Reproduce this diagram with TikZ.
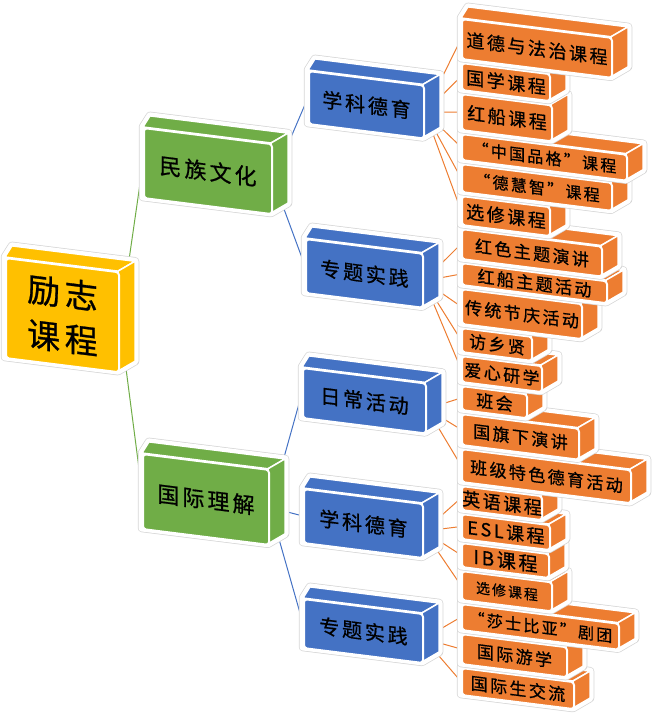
\documentclass[tikz,border=0pt]{standalone}
\usepackage{fontspec}
\newfontfamily\cjk[LetterSpace=14, FakeBold=0.8]{Noto Sans CJK SC}
\pgfdeclarelayer{bg}
\pgfsetlayers{bg,main}
\definecolor{cOr}{HTML}{ED7D31}
\definecolor{cBl}{HTML}{4472C4}
\definecolor{cGr}{HTML}{70AD47}
\definecolor{cYe}{HTML}{FFC000}
\newcommand{\fsz}[1]{\fontsize{#1}{#1}\selectfont}
\tikzset{
  halo/.style={draw=black!16, line width=8.5pt, line join=round},
  wbord/.style={draw=white, line width=7pt, line join=round, fill=white},
  face/.style={fill=#1, draw=white, line width=1.5pt, line join=round},
  front/.style={rectangle, rounded corners=3pt, draw=white, line width=2pt,
    inner sep=0pt, anchor=north west, transform shape, align=center},
  lk/.style={draw=#1, line width=1pt},
}
\newcommand{\cube}[8]{%
  \begin{scope}[shift={(#2,#3)}, yslant=-0.125]
    \path[halo] (0,#5) -- (0,0) -- (7,-12) -- (#4+17,-12) -- (#4+17,#5-12) -- (#4,#5) -- cycle;
    \path[wbord] (0,#5) -- (0,0) -- (7,-12) -- (#4+17,-12) -- (#4+17,#5-12) -- (#4,#5) -- cycle;
    \path[face=#6] (0,0) -- (7,-12) -- (#4+17,-12) -- (#4,0) -- cycle;
    \path[face=#6] (#4,0) -- (#4+17,-12) -- (#4+17,#5-12) -- (#4,#5) -- cycle;
    \node[front, fill=#6, minimum width=#4pt, minimum height=#5pt, font={\cjk #7}] (#1) at (0,0) {#8};
  \end{scope}}
\begin{document}
\begin{tikzpicture}[x=1pt, y=-1pt]
\useasboundingbox (0,0) rectangle (654,713);
% main boxes
\cube{lizhi}{5}{257}{113}{100}{cYe}{\fontsize{33}{45}\selectfont}{励志\\课程}
\cube{minzu}{143}{127}{128}{70}{cGr}{\fsz{22}}{民族文化}
\cube{guoji}{142}{453}{126}{75}{cGr}{\fsz{22}}{国际理解}
\cube{xka}{308}{70}{115}{53}{cBl}{\fsz{20}}{学科德育}
\cube{zta}{305}{238}{117}{54}{cBl}{\fsz{20}}{专题实践}
\cube{rc}{302}{367}{123}{50}{cBl}{\fsz{20}}{日常活动}
\cube{xkb}{303}{488}{119}{54}{cBl}{\fsz{20}}{学科德育}
\cube{ztb}{303}{598}{119}{49}{cBl}{\fsz{20}}{专题实践}
% orange stack, bottom first
\cube{o21}{461}{667}{112}{27}{cOr}{\fsz{17}}{国际生交流}
\cube{o20}{461}{633}{105}{30}{cOr}{\fsz{17}}{国际游学}
\cube{o19}{461}{603}{157}{26}{cOr}{\fsz{16}}{“莎士比亚”剧团}
\cube{o18}{461}{570}{90}{29}{cOr}{\fsz{14}}{选修课程}
\cube{o17}{461}{542}{87}{24}{cOr}{\fsz{19}}{IB课程}
\cube{o16}{461}{513}{88}{25}{cOr}{\fsz{18}}{ESL课程}
\cube{o15}{461}{485}{80}{24}{cOr}{\fsz{18}}{英语课程}
\cube{o14}{461}{448}{169}{33}{cOr}{\fsz{17}}{班级特色德育活动}
\cube{o13}{461}{413}{117}{31}{cOr}{\fsz{17}}{国旗下演讲}
\cube{o12}{461}{385}{65}{24}{cOr}{\fsz{17}}{班会}
\cube{o11}{461}{355}{80}{26}{cOr}{\fsz{17}}{爱心研学}
\cube{o10}{461}{327}{70}{24}{cOr}{\fsz{17}}{访乡贤}
\cube{o9}{461}{288}{120}{35}{cOr}{\fsz{17}}{传统节庆活动}
\cube{o8}{461}{262}{145}{22}{cOr}{\fsz{17}}{红船主题活动}
\cube{o7}{461}{228}{140}{30}{cOr}{\fsz{17}}{红色主题演讲}
\cube{o6}{461}{195}{88}{29}{cOr}{\fsz{18}}{选修课程}
\cube{o5}{461}{163}{150}{28}{cOr}{\fsz{16}}{“德慧智”课程}
\cube{o4}{461}{133}{165}{26}{cOr}{\fsz{16}}{“中国品格”课程}
\cube{o3}{461}{93}{90}{36}{cOr}{\fsz{18}}{红船课程}
\cube{o2}{461}{62}{88}{27}{cOr}{\fsz{18}}{国学课程}
\cube{o1}{461}{18}{150}{40}{cOr}{\fsz{18}}{道德与法治课程}
% connectors
\begin{pgfonlayer}{bg}
\draw[lk=cGr] (lizhi.east) -- (minzu.west);
\draw[lk=cGr] (lizhi.east) -- (guoji.west);
\draw[lk=cBl] (minzu.east) -- (xka.west);
\draw[lk=cBl] (minzu.east) -- (zta.west);
\draw[lk=cBl] (guoji.east) -- (rc.west);
\draw[lk=cBl] (guoji.east) -- (xkb.west);
\draw[lk=cBl] (guoji.east) -- (ztb.west);
\foreach \c in {o1,o2,o3,o4,o5,o6} \draw[lk=cOr] (xka.east) -- (\c.west);
\foreach \c in {o7,o8,o9,o10,o11} \draw[lk=cOr] (zta.east) -- (\c.west);
\foreach \c in {o12,o13,o14} \draw[lk=cOr] (rc.east) -- (\c.west);
\foreach \c in {o15,o16,o17,o18} \draw[lk=cOr] (xkb.east) -- (\c.west);
\foreach \c in {o19,o20,o21} \draw[lk=cOr] (ztb.east) -- (\c.west);
\end{pgfonlayer}
\end{tikzpicture}
\end{document}
